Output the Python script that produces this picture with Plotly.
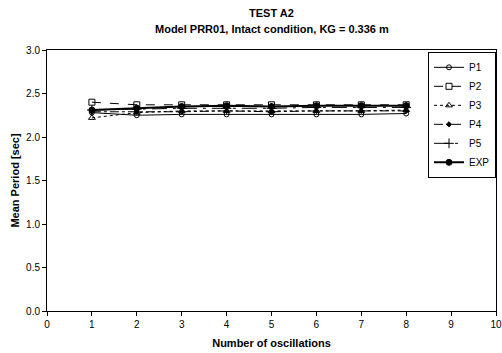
import plotly.graph_objects as go

oscillations = [1, 2, 3, 4, 5, 6, 7, 8]
p1 = [2.28, 2.25, 2.26, 2.26, 2.26, 2.26, 2.26, 2.27]
p2 = [2.40, 2.37, 2.37, 2.37, 2.37, 2.37, 2.37, 2.37]
p3 = [2.22, 2.28, 2.30, 2.30, 2.30, 2.30, 2.30, 2.31]
p4 = [2.29, 2.29, 2.29, 2.30, 2.29, 2.30, 2.30, 2.30]
p5 = [2.31, 2.32, 2.33, 2.33, 2.33, 2.34, 2.34, 2.34]
exp = [2.31, 2.33, 2.35, 2.36, 2.35, 2.36, 2.36, 2.36]

series = [
    ("P1", p1, "solid", "circle-open", 1, 5),
    ("P2", p2, "dash", "square-open", 1, 6),
    ("P3", p3, "dot", "triangle-up-open", 1, 6),
    ("P4", p4, "dashdot", "diamond", 1, 4),
    ("P5", p5, "longdashdot", "cross-thin-open", 1, 7),
    ("EXP", exp, "solid", "circle", 2, 6),
]

fig = go.Figure()
for name, vals, dash, sym, w, ms in series:
    fig.add_trace(go.Scatter(
        x=oscillations, y=vals, name=name, mode="lines+markers",
        line=dict(color="black", width=w, dash=dash),
        marker=dict(symbol=sym, size=ms, color="black",
                    line=dict(color="black", width=1)),
    ))

font = "Liberation Sans, Arial, sans-serif"
fig.update_layout(
    width=502, height=353,
    margin=dict(l=47, r=6, t=50, b=42),
    paper_bgcolor="white", plot_bgcolor="white",
    font=dict(family=font, size=10, color="black"),
    annotations=[
        dict(text="<b>TEST A2</b>", xref="paper", yref="paper", x=0.5, y=1,
             yshift=37, xanchor="center", yanchor="middle", showarrow=False,
             font=dict(size=11)),
        dict(text="<b>Model PRR01, Intact condition, KG = 0.336 m</b>", xref="paper",
             yref="paper", x=0.5, y=1, yshift=21, xanchor="center", yanchor="middle",
             showarrow=False, font=dict(size=11)),
    ],
    xaxis=dict(
        range=[0, 10], dtick=1, tickmode="linear", automargin=False,
        ticks="outside", ticklen=4, tickcolor="black",
        showline=True, linecolor="black", linewidth=1, mirror=True,
        showgrid=False, zeroline=False,
        title=dict(text="<b>Number of oscillations</b>", font=dict(size=11), standoff=10),
    ),
    yaxis=dict(
        range=[0, 3], dtick=0.5, tickformat=".1f", automargin=False,
        ticks="outside", ticklen=4, tickcolor="black",
        showline=True, linecolor="black", linewidth=1, mirror=True,
        showgrid=False, zeroline=False,
        title=dict(text="<b>Mean Period [sec]</b>", font=dict(size=11), standoff=4),
    ),
    legend=dict(
        x=1, xanchor="right", y=0.993, yanchor="top",
        bgcolor="white", bordercolor="black", borderwidth=1,
        font=dict(size=10), tracegroupgap=0, itemwidth=30,
    ),
)

fig.write_html("out.html")
